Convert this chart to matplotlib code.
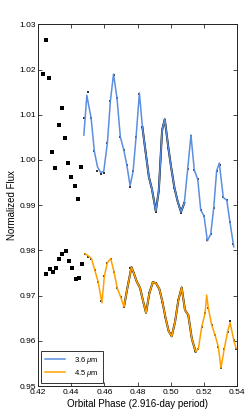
import matplotlib
matplotlib.use("Agg")
import matplotlib.pyplot as plt

plt.rcParams['font.family'] = ['Liberation Sans', 'DejaVu Sans']
plt.rcParams['mathtext.fontset'] = 'custom'
plt.rcParams['mathtext.it'] = 'Liberation Sans:italic'
plt.rcParams['mathtext.rm'] = 'Liberation Sans'

# early points, before the curves (3.6 um, top group)
early36_x = [0.4228, 0.4246, 0.4266, 0.4284, 0.4304, 0.4325, 0.4343, 0.4363,
             0.4383, 0.4401, 0.4421, 0.4441, 0.4459]
early36_y = [1.0190, 1.0266, 1.0181, 1.0017, 0.9983, 1.0077, 1.0115, 1.0048,
             0.9993, 0.9963, 0.9942, 0.9913, 0.9985]

# early points (4.5 um, bottom group)
early45_x = [0.4250, 0.4270, 0.4288, 0.4309, 0.4328, 0.4347, 0.4367, 0.4387,
             0.4405, 0.4427, 0.4445, 0.4464]
early45_y = [0.9748, 0.9759, 0.9752, 0.9762, 0.9781, 0.9792, 0.9798, 0.9776,
             0.9762, 0.9737, 0.9740, 0.9771]

# 3.6 um points
ch1_x = [0.4479, 0.4500, 0.4520, 0.4539, 0.4558, 0.4577, 0.4596, 0.4618, 0.4636,
         0.4657, 0.4676, 0.4696, 0.4717, 0.4735, 0.4755, 0.4773, 0.4791, 0.4811,
         0.4829, 0.4849, 0.4868, 0.4887, 0.4910, 0.4928, 0.4948, 0.4966, 0.4986,
         0.5002, 0.5022, 0.5042, 0.5062, 0.5082, 0.5102, 0.5122, 0.5142, 0.5163,
         0.5181, 0.5201, 0.5221, 0.5241, 0.5259, 0.5277, 0.5297, 0.5317, 0.5338,
         0.5357, 0.5377]
ch1_y = [1.0093, 1.0150, 1.0092, 1.0020, 0.9976, 0.9970, 0.9971, 1.0038, 1.0130,
         1.0188, 1.0136, 1.0051, 1.0022, 0.9989, 0.9941, 0.9975, 1.0051, 1.0146,
         1.0073, 1.0016, 0.9963, 0.9935, 0.9885, 0.9932, 1.0066, 1.0087, 1.0026,
         0.9985, 0.9939, 0.9908, 0.9883, 0.9905, 0.9979, 1.0053, 0.9978, 0.9957,
         0.9889, 0.9876, 0.9823, 0.9836, 0.9893, 0.9976, 0.9988, 0.9917, 0.9911,
         0.9863, 0.9814]

# 3.6 um curve
curve1_x = [0.4476, 0.4494, 0.4520, 0.4539, 0.4558, 0.4577, 0.4596, 0.4618, 0.4636,
            0.4655, 0.4676, 0.4696, 0.4717, 0.4735, 0.4755, 0.4773, 0.4791, 0.4811,
            0.4829, 0.4849, 0.4868, 0.4887, 0.4910, 0.4928, 0.4948, 0.4964, 0.4986,
            0.5002, 0.5022, 0.5042, 0.5062, 0.5082, 0.5102, 0.5122, 0.5142, 0.5163,
            0.5181, 0.5201, 0.5221, 0.5241, 0.5259, 0.5277, 0.5293, 0.5317, 0.5338,
            0.5357, 0.5380]
curve1_y = [1.0055, 1.0143, 1.0092, 1.0020, 0.9985, 0.9972, 0.9975, 1.0038, 1.0130,
            1.0190, 1.0136, 1.0051, 1.0022, 0.9989, 0.9943, 0.9975, 1.0051, 1.0148,
            1.0073, 1.0016, 0.9963, 0.9935, 0.9887, 0.9932, 1.0066, 1.0090, 1.0026,
            0.9985, 0.9939, 0.9908, 0.9885, 0.9905, 0.9979, 1.0055, 0.9978, 0.9957,
            0.9889, 0.9876, 0.9821, 0.9836, 0.9893, 0.9976, 0.9993, 0.9917, 0.9911,
            0.9863, 0.9808]

# 4.5 um points
ch2_x = [0.4482, 0.4502, 0.4522, 0.4542, 0.4562, 0.4582, 0.4600, 0.4618, 0.4638,
         0.4658, 0.4678, 0.4698, 0.4718, 0.4737, 0.4757, 0.4776, 0.4795, 0.4815,
         0.4832, 0.4851, 0.4871, 0.4892, 0.4912, 0.4932, 0.4950, 0.4968, 0.4987,
         0.5006, 0.5026, 0.5046, 0.5066, 0.5086, 0.5106, 0.5127, 0.5147, 0.5167,
         0.5187, 0.5207, 0.5227, 0.5247, 0.5267, 0.5287, 0.5303, 0.5323, 0.5343,
         0.5360, 0.5380, 0.5394]
ch2_y = [0.9793, 0.9786, 0.9782, 0.9756, 0.9731, 0.9689, 0.9744, 0.9773, 0.9780,
         0.9752, 0.9716, 0.9697, 0.9675, 0.9714, 0.9760, 0.9751, 0.9731, 0.9717,
         0.9690, 0.9664, 0.9705, 0.9729, 0.9727, 0.9714, 0.9686, 0.9652, 0.9622,
         0.9612, 0.9642, 0.9690, 0.9716, 0.9668, 0.9657, 0.9605, 0.9578, 0.9583,
         0.9631, 0.9661, 0.9672, 0.9635, 0.9613, 0.9587, 0.9539, 0.9583, 0.9620,
         0.9644, 0.9602, 0.9583]

# 4.5 um curve
curve2_x = [0.4482, 0.4502, 0.4522, 0.4542, 0.4562, 0.4585, 0.4600, 0.4618, 0.4638,
            0.4658, 0.4678, 0.4698, 0.4718, 0.4737, 0.4763, 0.4776, 0.4795, 0.4815,
            0.4832, 0.4851, 0.4871, 0.4892, 0.4912, 0.4932, 0.4950, 0.4968, 0.4987,
            0.5006, 0.5026, 0.5046, 0.5066, 0.5086, 0.5106, 0.5127, 0.5150, 0.5167,
            0.5187, 0.5207, 0.5217, 0.5227, 0.5247, 0.5267, 0.5287, 0.5303, 0.5323,
            0.5343, 0.5358, 0.5380, 0.5394]
curve2_y = [0.9793, 0.9788, 0.9782, 0.9756, 0.9731, 0.9684, 0.9744, 0.9773, 0.9782,
            0.9752, 0.9716, 0.9697, 0.9675, 0.9714, 0.9763, 0.9751, 0.9731, 0.9717,
            0.9690, 0.9662, 0.9705, 0.9730, 0.9727, 0.9714, 0.9686, 0.9652, 0.9622,
            0.9610, 0.9642, 0.9690, 0.9718, 0.9668, 0.9657, 0.9605, 0.9576, 0.9583,
            0.9631, 0.9661, 0.9701, 0.9672, 0.9635, 0.9613, 0.9587, 0.9540, 0.9583,
            0.9620, 0.9640, 0.9602, 0.9583]

blue = '#5b8fe0'
orange = '#ffa000'

fig = plt.figure(figsize=(2.49, 4.12), dpi=100)
ax = fig.add_axes([0.153, 0.063, 0.799, 0.878])

# black model underneath the coloured curves (only visible at the edges)
ax.plot(curve1_x[18:32], curve1_y[18:32], color='black', lw=1.45, zorder=2)
ax.plot(curve2_x[12:35], curve2_y[12:35], color='black', lw=1.45, zorder=2)

ax.plot(curve1_x, curve1_y, color=blue, lw=1.1, zorder=3, label='3.6 $\\mu$m')
ax.plot(curve2_x, curve2_y, color=orange, lw=1.1, zorder=3, label='4.5 $\\mu$m')

ms = 2.2
ax.plot(early36_x, early36_y, 's', color='black', ms=ms, mew=0, zorder=4)
ax.plot(early45_x, early45_y, 's', color='black', ms=ms, mew=0, zorder=4)
ax.plot(ch1_x, ch1_y, 's', color='#333333', ms=ms - 0.3, mew=0, zorder=2.5)
ax.plot(ch2_x, ch2_y, 's', color='#333333', ms=ms - 0.3, mew=0, zorder=2.5)

ax.set_xlim(0.42, 0.54)
ax.set_ylim(0.95, 1.03)
ax.set_xticks([0.42, 0.44, 0.46, 0.48, 0.50, 0.52, 0.54])
ax.set_xticklabels(['0.42', '0.44', '0.46', '0.48', '0.50', '0.52', '0.54'])
ax.set_yticks([0.95, 0.96, 0.97, 0.98, 0.99, 1.00, 1.01, 1.02, 1.03])
ax.set_yticklabels(['0.95', '0.96', '0.97', '0.98', '0.99', '1.00', '1.01', '1.02', '1.03'])
ax.tick_params(direction='in', top=True, right=True, labelsize=6, length=3,
               width=0.5)
ax.tick_params(axis='y', pad=1.5)
ax.tick_params(axis='x', pad=2.2)
for s in ax.spines.values():
    s.set_linewidth(0.7)
    s.set_color('#222222')

ax.set_xlabel('Orbital Phase (2.916-day period)', fontsize=7, labelpad=2)
ax.set_ylabel('Normalized Flux', fontsize=7, labelpad=2)

leg = ax.legend(loc='lower left', fontsize=5.5, frameon=True, fancybox=False,
                handlelength=2.6, borderpad=0.5, labelspacing=0.3,
                borderaxespad=0.4, handletextpad=1.2)
leg.get_frame().set_edgecolor('black')
leg.get_frame().set_linewidth(0.7)

fig.savefig('out.png', dpi=100)
